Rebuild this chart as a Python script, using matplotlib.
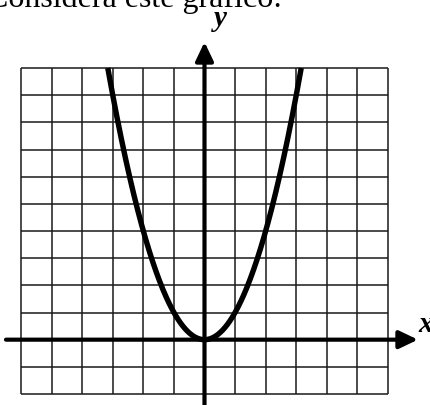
import numpy as np
import matplotlib
matplotlib.use("Agg")
import matplotlib.pyplot as plt

# grid extent (units)
x_ticks = list(range(-6, 7))
y_ticks = list(range(-2, 11))

# parabola y = a*x^2 + b*x + c
coef = [1.0, 0.0, 0.0]
y_top = 10

title = "Considera este gráfico:"

W, H = 431, 405
fig = plt.figure(figsize=(W / 100, H / 100), dpi=100)
ax = fig.add_axes([0, 0, 1, 1])
ax.set_axis_off()

# pixel -> data mapping: grid spans px 21..388 horizontally, 394..68 vertically
sx = (388 - 21) / 12.0
sy = (394 - 68) / 12.0
ax.set_xlim(-6 - 21 / sx, -6 + (W - 21) / sx)
ax.set_ylim(-2 - (H - 394) / sy, 10 + 68 / sy)

ax.vlines(x_ticks, y_ticks[0], y_ticks[-1], colors="#1a1a1a", lw=1.1, zorder=1)
ax.hlines(y_ticks, x_ticks[0], x_ticks[-1], colors="#1a1a1a", lw=1.1, zorder=1)

# axes with arrows
x0, x1 = ax.get_xlim()
y0, y1 = ax.get_ylim()
arr = dict(arrowstyle="-|>,head_length=0.42,head_width=0.2", lw=3,
           color="black", mutation_scale=27, shrinkA=0, shrinkB=0)
ax.annotate("", xy=(-6 + (418 - 21) / sx, 0), xytext=(-6 + (6 - 21) / sx, 0),
            arrowprops=arr, zorder=3)
ax.annotate("", xy=(0, 10 + (68 - 42) / sy), xytext=(0, y0 - 0.2),
            arrowprops=arr, zorder=3)

# curve
r = np.roots([coef[0], coef[1], coef[2] - y_top])
xs = np.linspace(r.min(), r.max(), 400)
ax.plot(xs, np.polyval(coef, xs), color="black", lw=3.9,
        solid_capstyle="butt", zorder=4)

serif = ["Liberation Serif", "DejaVu Serif"]
fig.text(-13 / W, 1 - 7 / H, title, family=serif, fontsize=23,
         va="baseline", ha="left")
fig.text(214 / W, 1 - 26.5 / H, "y", family=serif, fontsize=21,
         fontweight="bold", style="italic", va="baseline", ha="left")
fig.text(418 / W, 1 - 332 / H, "x", family=serif, fontsize=21,
         fontweight="bold", style="italic", va="baseline", ha="left")

fig.savefig("out.png", dpi=100)
